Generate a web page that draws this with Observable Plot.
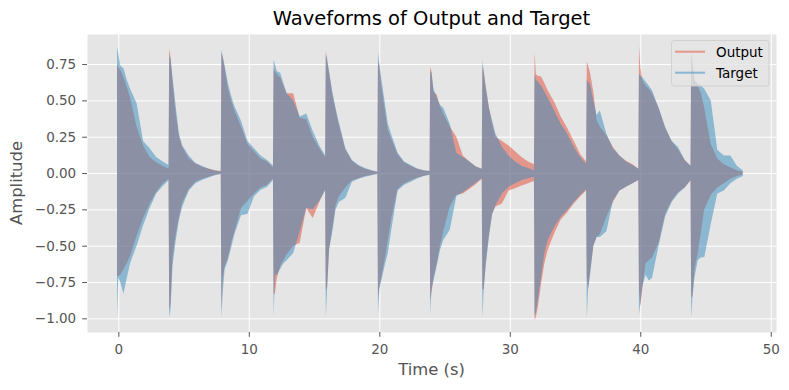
<!DOCTYPE html>
<html>
<head>
<meta charset="utf-8">
<script src="https://cdn.jsdelivr.net/npm/d3@7"></script>
<script src="https://cdn.jsdelivr.net/npm/@observablehq/plot@0.6"></script>
<style>
  html, body { margin: 0; padding: 0; background: white; }
  #chart { position: relative; width: 789px; height: 390px; }
</style>
</head>
<body>
<div id="chart"></div>
<script>
// ---- Data (envelopes) ----
const title = "Waveforms of Output and Target";
const xLabel = "Time (s)";
const yLabel = "Amplitude";
const seriesNames = ["Output", "Target"];
const xTicks = [0, 10, 20, 30, 40, 50];
const yTicks = [-1.0, -0.75, -0.5, -0.25, 0, 0.25, 0.5, 0.75];

// note onsets (s) and sample offsets within each note (s)
const noteStarts = [-0.1, 3.9, 7.9, 11.9, 15.9, 19.9, 23.9, 27.9, 31.9, 35.9, 39.9, 43.9];
const noteOffsets = [0, 0.1, 0.25, 0.5, 0.75, 1.0, 1.5, 2.0, 2.5, 3.0, 3.5, 3.95];

const outputUpper = [
  [0.75, 0.73, 0.71, 0.66, 0.59, 0.52, 0.32, 0.19, 0.11, 0.075, 0.05, 0.03],
  [0.86, 0.80, 0.64, 0.41, 0.25, 0.18, 0.10, 0.067, 0.044, 0.032, 0.02, 0.014],
  [0.83, 0.80, 0.72, 0.58, 0.50, 0.43, 0.32, 0.20, 0.15, 0.10, 0.08, 0.04],
  [0.72, 0.70, 0.68, 0.66, 0.60, 0.55, 0.55, 0.38, 0.37, 0.25, 0.17, 0.11],
  [0.84, 0.77, 0.69, 0.54, 0.43, 0.33, 0.16, 0.085, 0.05, 0.03, 0.018, 0.008],
  [0.77, 0.74, 0.60, 0.45, 0.30, 0.24, 0.13, 0.075, 0.05, 0.03, 0.018, 0.012],
  [0.73, 0.70, 0.56, 0.54, 0.46, 0.41, 0.32, 0.25, 0.12, 0.08, 0.045, 0.03],
  [0.73, 0.70, 0.60, 0.45, 0.34, 0.25, 0.22, 0.19, 0.15, 0.11, 0.08, 0.06],
  [0.835, 0.68, 0.67, 0.665, 0.62, 0.57, 0.49, 0.39, 0.31, 0.22, 0.13, 0.08],
  [0.77, 0.74, 0.69, 0.56, 0.365, 0.32, 0.26, 0.18, 0.12, 0.085, 0.06, 0.03],
  [0.88, 0.73, 0.64, 0.60, 0.58, 0.55, 0.45, 0.31, 0.22, 0.16, 0.09, 0.05],
  [0.84, 0.75, 0.64, 0.60, 0.55, 0.45, 0.20, 0.10, 0.06, 0.04, 0.02, 0.01]
];
const outputLower = [
  [-0.71, -0.71, -0.70, -0.66, -0.62, -0.57, -0.43, -0.31, -0.21, -0.13, -0.07, -0.04],
  [-0.94, -0.90, -0.58, -0.42, -0.30, -0.20, -0.11, -0.06, -0.04, -0.025, -0.012, -0.005],
  [-0.95, -0.72, -0.64, -0.58, -0.48, -0.40, -0.24, -0.19, -0.14, -0.10, -0.08, -0.04],
  [-0.83, -0.83, -0.72, -0.64, -0.60, -0.56, -0.50, -0.48, -0.24, -0.31, -0.20, -0.11],
  [-0.81, -0.78, -0.52, -0.38, -0.22, -0.16, -0.10, -0.05, -0.035, -0.02, -0.012, -0.005],
  [-0.87, -0.78, -0.72, -0.60, -0.46, -0.32, -0.11, -0.07, -0.05, -0.03, -0.018, -0.01],
  [-0.87, -0.82, -0.72, -0.62, -0.50, -0.40, -0.23, -0.15, -0.14, -0.11, -0.075, -0.04],
  [-0.80, -0.80, -0.62, -0.42, -0.28, -0.23, -0.21, -0.12, -0.105, -0.085, -0.07, -0.055],
  [-1.01, -0.99, -0.92, -0.76, -0.62, -0.53, -0.415, -0.32, -0.27, -0.21, -0.16, -0.12],
  [-0.71, -0.80, -0.68, -0.50, -0.44, -0.42, -0.30, -0.20, -0.12, -0.094, -0.07, -0.048],
  [-0.80, -0.92, -0.80, -0.62, -0.60, -0.58, -0.48, -0.28, -0.19, -0.13, -0.10, -0.05],
  [-0.85, -0.85, -0.66, -0.55, -0.40, -0.25, -0.15, -0.10, -0.07, -0.04, -0.02, -0.01]
];
const targetUpper = [
  [0.87, 0.82, 0.74, 0.72, 0.64, 0.58, 0.48, 0.22, 0.17, 0.11, 0.08, 0.055],
  [0.81, 0.79, 0.66, 0.46, 0.27, 0.19, 0.12, 0.07, 0.05, 0.03, 0.018, 0.01],
  [0.85, 0.80, 0.74, 0.62, 0.53, 0.46, 0.36, 0.22, 0.17, 0.12, 0.09, 0.05],
  [0.78, 0.75, 0.70, 0.69, 0.62, 0.55, 0.50, 0.39, 0.41, 0.29, 0.19, 0.12],
  [0.82, 0.79, 0.70, 0.56, 0.45, 0.35, 0.17, 0.09, 0.055, 0.035, 0.02, 0.01],
  [0.835, 0.75, 0.65, 0.50, 0.34, 0.27, 0.14, 0.08, 0.055, 0.032, 0.02, 0.015],
  [0.70, 0.69, 0.58, 0.52, 0.47, 0.45, 0.34, 0.14, 0.11, 0.08, 0.045, 0.03],
  [0.78, 0.70, 0.59, 0.45, 0.36, 0.27, 0.18, 0.12, 0.08, 0.05, 0.035, 0.02],
  [0.685, 0.64, 0.63, 0.60, 0.56, 0.52, 0.43, 0.34, 0.27, 0.18, 0.11, 0.06],
  [0.64, 0.63, 0.61, 0.50, 0.40, 0.43, 0.27, 0.17, 0.12, 0.08, 0.055, 0.03],
  [0.685, 0.67, 0.66, 0.63, 0.60, 0.57, 0.45, 0.32, 0.22, 0.18, 0.09, 0.05],
  [0.82, 0.78, 0.64, 0.62, 0.60, 0.58, 0.50, 0.16, 0.12, 0.12, 0.05, 0.02]
];
const targetLower = [
  [-0.99, -0.72, -0.75, -0.83, -0.72, -0.62, -0.50, -0.36, -0.24, -0.14, -0.09, -0.05],
  [-0.99, -0.94, -0.64, -0.46, -0.32, -0.23, -0.12, -0.07, -0.048, -0.03, -0.016, -0.007],
  [-1.0, -0.82, -0.66, -0.60, -0.51, -0.42, -0.29, -0.28, -0.16, -0.115, -0.094, -0.048],
  [-0.99, -0.70, -0.70, -0.66, -0.62, -0.60, -0.55, -0.40, -0.24, -0.25, -0.19, -0.12],
  [-0.99, -0.80, -0.53, -0.40, -0.25, -0.20, -0.17, -0.06, -0.04, -0.025, -0.015, -0.005],
  [-0.97, -0.80, -0.74, -0.64, -0.55, -0.40, -0.12, -0.08, -0.06, -0.037, -0.02, -0.012],
  [-0.97, -0.80, -0.74, -0.64, -0.53, -0.46, -0.39, -0.16, -0.13, -0.10, -0.065, -0.035],
  [-1.0, -0.80, -0.64, -0.44, -0.28, -0.22, -0.14, -0.094, -0.07, -0.048, -0.035, -0.025],
  [-0.98, -0.96, -0.87, -0.71, -0.55, -0.46, -0.37, -0.30, -0.255, -0.20, -0.15, -0.11],
  [-1.0, -0.80, -0.70, -0.50, -0.44, -0.44, -0.40, -0.19, -0.12, -0.094, -0.07, -0.048],
  [-0.97, -0.90, -0.78, -0.70, -0.74, -0.72, -0.50, -0.30, -0.20, -0.14, -0.10, -0.05],
  [-1.0, -0.85, -0.72, -0.60, -0.58, -0.58, -0.35, -0.14, -0.12, -0.07, -0.04, -0.02]
];

// ---- Build tables ----
function envelopeRows(upper, lower) {
  const out = [];
  noteStarts.forEach((s, i) => {
    noteOffsets.forEach((o, j) => {
      out.push({t: s + o, hi: upper[i][j], lo: lower[i][j]});
    });
  });
  return out;
}
const outputRows = envelopeRows(outputUpper, outputLower);
const targetRows = envelopeRows(targetUpper, targetLower);

const colors = {Output: "#E24A33", Target: "#348ABD"};
const alpha = 0.5;
const font = "DejaVu Sans, sans-serif";

const W = 789, H = 390;
const mL = 87, mR = 13, mT = 34, mB = 58;

const svg = Plot.plot({
  width: W,
  height: H,
  marginLeft: mL,
  marginRight: mR,
  marginTop: mT,
  marginBottom: mB,
  style: {fontFamily: font, fontSize: "13.5px", color: "#555555", background: "white", overflow: "visible"},
  x: {domain: [-2.4, 50.4]},
  y: {domain: [-1.094, 0.957]},
  marks: [
    Plot.frame({fill: "#E5E5E5", stroke: "none"}),
    Plot.gridX(xTicks, {stroke: "white", strokeOpacity: 1, strokeWidth: 1}),
    Plot.gridY(yTicks, {stroke: "white", strokeOpacity: 1, strokeWidth: 1}),
    Plot.areaY(outputRows, {x: "t", y1: "lo", y2: "hi", fill: colors.Output, fillOpacity: alpha}),
    Plot.areaY(targetRows, {x: "t", y1: "lo", y2: "hi", fill: colors.Target, fillOpacity: alpha}),
    Plot.axisX(xTicks, {tickSize: 4.8, tickPadding: 6.8, label: null, stroke: "#555555", tickFormat: d => String(d)}),
    Plot.axisY(yTicks, {tickSize: 4.8, tickPadding: 6.5, label: null, stroke: "#555555", tickFormat: d3.format(".2f")})
  ]
});

document.getElementById("chart").appendChild(svg);

const s = d3.select(svg);
// Title
s.append("text")
  .attr("x", (mL + (W - mR)) / 2)
  .attr("y", 25)
  .attr("text-anchor", "middle")
  .attr("font-family", font)
  .attr("font-size", "19.5px")
  .attr("fill", "#000000")
  .text(title);
// X label
s.append("text")
  .attr("x", (mL + (W - mR)) / 2)
  .attr("y", 374.5)
  .attr("text-anchor", "middle")
  .attr("font-family", font)
  .attr("font-size", "16.4px")
  .attr("fill", "#555555")
  .text(xLabel);
// Y label
s.append("text")
  .attr("transform", `translate(22,${(mT + (H - mB)) / 2}) rotate(-90)`)
  .attr("text-anchor", "middle")
  .attr("font-family", font)
  .attr("font-size", "16.4px")
  .attr("fill", "#555555")
  .text(yLabel);

// Legend (upper right)
const lg = s.append("g").attr("transform", "translate(671.5,40.5)");
lg.append("rect")
  .attr("width", 97.5).attr("height", 45.5).attr("rx", 3)
  .attr("fill", "#E5E5E5").attr("fill-opacity", 0.8)
  .attr("stroke", "#cccccc").attr("stroke-opacity", 0.8).attr("stroke-width", 1);
seriesNames.forEach((name, i) => {
  const yy = 11.2 + i * 21;
  lg.append("line")
    .attr("x1", 3.5).attr("x2", 33.5).attr("y1", yy).attr("y2", yy)
    .attr("stroke", colors[name]).attr("stroke-opacity", alpha).attr("stroke-width", 2);
  lg.append("text")
    .attr("x", 44.5).attr("y", yy + 5)
    .attr("text-anchor", "start")
    .attr("font-family", font).attr("font-size", "13.5px").attr("fill", "#000000")
    .text(name);
});
</script>
</body>
</html>
